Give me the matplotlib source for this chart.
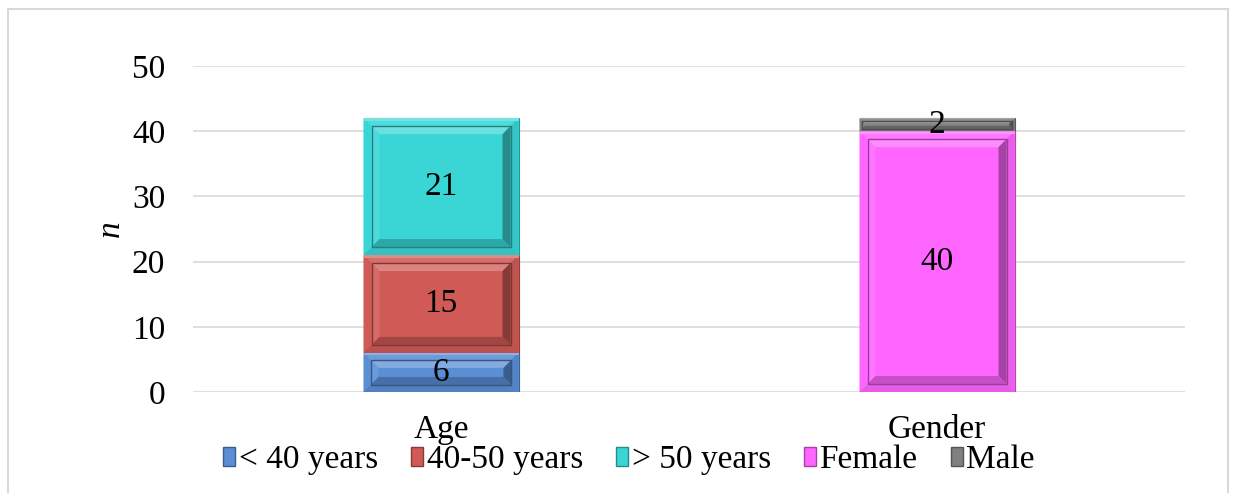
import matplotlib.pyplot as plt
import matplotlib.colors as mcolors
from matplotlib.patches import Polygon, Rectangle

plt.rcParams['font.family'] = ['Liberation Serif', 'DejaVu Serif']

# data
groups = ['Age', 'Gender']
series = ['< 40 years', '40-50 years', '> 50 years', 'Female', 'Male']
group_of = [0, 0, 0, 1, 1]
values = [6, 15, 21, 40, 2]
colors = ['#5a8fd6', '#d05a56', '#3ad6d6', '#ff66ff', '#808080']
yticks = [0, 10, 20, 30, 40, 50]

FS = 24


def shade(c, f):
    r, g, b = mcolors.to_rgb(c)
    if f >= 0:
        return (r + (1 - r) * f, g + (1 - g) * f, b + (1 - b) * f)
    f = -f
    return (r * (1 - f), g * (1 - f), b * (1 - f))


def ring(ax, x0, y0, x1, y1, dx, dy, c, amt):
    # four trapezoids between outer box and box inset by dx, dy
    ix0, iy0, ix1, iy1 = x0 + dx, y0 + dy, x1 - dx, y1 - dy
    sides = [
        ([(x0, y1), (x1, y1), (ix1, iy1), (ix0, iy1)], amt[0]),  # top
        ([(x0, y0), (x0, y1), (ix0, iy1), (ix0, iy0)], amt[1]),  # left
        ([(x1, y0), (x1, y1), (ix1, iy1), (ix1, iy0)], amt[2]),  # right
        ([(x0, y0), (x1, y0), (ix1, iy0), (ix0, iy0)], amt[3]),  # bottom
    ]
    for pts, a in sides:
        ax.add_patch(Polygon(pts, closed=True, facecolor=shade(c, a),
                             edgecolor='none', zorder=3))


def bevel(ax, patch, c, sx, sy):
    x0, y0 = patch.get_x(), patch.get_y()
    x1, y1 = x0 + patch.get_width(), y0 + patch.get_height()
    hpx = patch.get_height() * sy
    m = min(8.0, hpx * 0.18)
    b = min(8.0, hpx * 0.22)
    # flat outer band, lit a little from the top
    ring(ax, x0, y0, x1, y1, m / sx, m / sy, c, (0.12, 0.0, -0.08, -0.1))
    ax.add_patch(Rectangle((x0, y1 - min(2.5, m * 0.4) / sy), x1 - x0,
                           min(2.5, m * 0.4) / sy, facecolor=shade(c, 0.3),
                           edgecolor='none', zorder=3))
    # raised inner panel
    ring(ax, x0 + m / sx, y0 + m / sy, x1 - m / sx, y1 - m / sy,
         b / sx, b / sy, c, (0.25, 0.1, -0.35, -0.22))
    ax.add_patch(Rectangle((x0 + m / sx, y0 + m / sy),
                           (x1 - x0) - 2 * m / sx, (y1 - y0) - 2 * m / sy,
                           facecolor='none', edgecolor=shade(c, -0.4),
                           lw=1.0, zorder=4))


fig = plt.figure(figsize=(12.33, 4.93), dpi=100)
ax = fig.add_axes([193 / 1233, 1 - 392 / 493, 992 / 1233, 326 / 493])
ax.set_xlim(-0.5, 1.5)
ax.set_ylim(0, 50)

# outer chart frame
fig.add_artist(Rectangle((8 / 1233, -0.1), 1220 / 1233, 1.1 - 9 / 493,
                         transform=fig.transFigure, fill=False,
                         edgecolor='#d9d9d9', lw=1.5))

sx = (ax.transData.transform((1, 0)) - ax.transData.transform((0, 0)))[0]
sy = (ax.transData.transform((0, 1)) - ax.transData.transform((0, 0)))[1]

bottoms = [0, 0]
width = 0.3125
for name, g, v, c in zip(series, group_of, values, colors):
    bars = ax.bar(g, v, width, bottom=bottoms[g], color=c,
                  edgecolor=shade(c, -0.3), lw=0.8, label=name, zorder=2)
    bevel(ax, bars[0], c, sx, sy)
    ax.text(g, bottoms[g] + v / 2, str(v), ha='center', va='center',
            fontsize=FS, zorder=5)
    bottoms[g] += v

ax.set_yticks(yticks)
ax.set_xticks(range(len(groups)))
ax.set_xticklabels(groups)
ax.tick_params(axis='both', length=0, labelsize=FS)
ax.tick_params(axis='y', pad=20)
ax.tick_params(axis='x', pad=16)
ax.grid(axis='y', color='#d9d9d9', lw=1.2, zorder=0)
ax.set_axisbelow(True)
for s in ax.spines.values():
    s.set_visible(False)
ax.set_ylabel('n', fontstyle='italic', fontsize=FS, labelpad=4)

handles = [Rectangle((0, 0), 1, 1, facecolor=c, edgecolor=shade(c, -0.35), lw=1)
           for c in colors]
fig.legend(handles, series, loc='center', bbox_to_anchor=(629 / 1233, 1 - 460 / 493),
           ncol=5, frameon=False, fontsize=FS, handlelength=0.36,
           handleheight=0.5, handletextpad=0.1, columnspacing=1.0,
           borderpad=0, borderaxespad=0)

fig.savefig('out.png', dpi=100)
